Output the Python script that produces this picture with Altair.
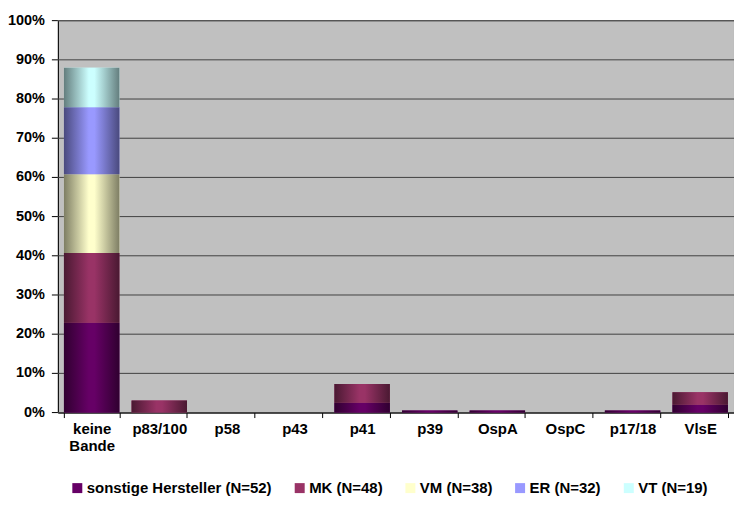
import altair as alt
import pandas as pd

categories = ["keine Bande", "p83/100", "p58", "p43", "p41", "p39", "OspA", "OspC", "p17/18", "VlsE"]
series = ["sonstige Hersteller (N=52)", "MK (N=48)", "VM (N=38)", "ER (N=32)", "VT (N=19)"]
sonstige = [22.9, 0.0, 0.0, 0.0, 2.5, 0.5, 0.5, 0.0, 0.5, 2.0]
mk = [17.8, 3.1, 0.0, 0.0, 4.8, 0.0, 0.0, 0.0, 0.0, 3.2]
vm = [20.1, 0.0, 0.0, 0.0, 0.0, 0.0, 0.0, 0.0, 0.0, 0.0]
er = [17.1, 0.0, 0.0, 0.0, 0.0, 0.0, 0.0, 0.0, 0.0, 0.0]
vt = [10.1, 0.0, 0.0, 0.0, 0.0, 0.0, 0.0, 0.0, 0.0, 0.0]
y_ticks = list(range(0, 101, 10))
colors = ["#660066", "#993366", "#FFFFCC", "#9999FF", "#CCFFFF"]
dark = ["#300030", "#4a1932", "#7e7e64", "#4a4a7e", "#647e7e"]

rows = []
for i, (s, vals) in enumerate(zip(series, [sonstige, mk, vm, er, vt])):
    for c, v in zip(categories, vals):
        rows.append({"cat": c, "series": s, "order": i, "value": v})
df = pd.DataFrame(rows)
ticks_df = pd.DataFrame({"v": y_ticks})

FONT = "Liberation Sans"
FS = 15

xscale = alt.Scale(domain=categories, paddingInner=0.18, paddingOuter=0.09)
yscale = alt.Scale(domain=[0, 100], nice=False)

xaxis = alt.Axis(labelAngle=0, tickBand="extent", labelFont=FONT,
                 labelFontSize=FS, labelFontWeight="bold", labelColor="black",
                 domainColor="black", tickColor="black", tickSize=5,
                 labelPadding=4, grid=False, labelOverlap=False,
                 labelExpr="split(datum.label, ' ')", labelLineHeight=17)
# y axis: only the black axis line; ticks, grid and labels are drawn from y_ticks below
yaxis = alt.Axis(labels=False, ticks=False, grid=False, domainColor="black",
                 title=None)

def X():
    return alt.X("cat:N", scale=xscale, sort=categories, title=None, axis=xaxis)

base = alt.Chart(df).transform_stack(
    stack="value", groupby=["cat"], as_=["y0", "y1"],
    sort=[alt.SortField("order", "ascending")]
)

tbase = alt.Chart(ticks_df)
grid = tbase.mark_rule(color="#404040", strokeWidth=1).encode(
    y=alt.Y("v:Q", scale=yscale, axis=yaxis, title=None),
    x=alt.value(0), x2=alt.value("width"),
)
tickmarks = tbase.mark_rule(color="black", strokeWidth=1).encode(
    y=alt.Y("v:Q", scale=yscale, axis=yaxis, title=None),
    x=alt.value(-6), x2=alt.value(0),
)
ylabels = tbase.transform_calculate(lab="datum.v + '%'").mark_text(
    align="right", baseline="middle", font=FONT, fontSize=14.5, fontWeight="bold",
    color="black",
).encode(
    y=alt.Y("v:Q", scale=yscale, axis=yaxis, title=None),
    x=alt.value(-13), text="lab:N",
)

flat = base.mark_bar().encode(
    x=X(),
    y=alt.Y("y1:Q", scale=yscale, title=None, axis=yaxis),
    y2="y0:Q",
    color=alt.Color("series:N", scale=alt.Scale(domain=series, range=colors),
                    sort=series,
                    legend=alt.Legend(title=None, orient="none", direction="horizontal",
                                      legendX=12, legendY=461, symbolType="square",
                                      symbolSize=100, symbolStrokeWidth=0,
                                      labelFont=FONT, labelFontSize=FS,
                                      labelFontWeight="bold", labelColor="black",
                                      labelLimit=0, columnPadding=20, labelOffset=2)),
)

layers = [grid, tickmarks, ylabels, flat]
for s, c, d in zip(series, colors, dark):
    grad = alt.Gradient(
        gradient="linear", x1=0, x2=1, y1=0, y2=0,
        stops=[alt.GradientStop(color=d, offset=0),
               alt.GradientStop(color=c, offset=0.45),
               alt.GradientStop(color=c, offset=0.55),
               alt.GradientStop(color=d, offset=1)],
    )
    layers.append(
        base.transform_filter(alt.datum.series == s).mark_bar(color=grad).encode(
            x=X(),
            y=alt.Y("y1:Q", scale=yscale, title=None, axis=yaxis),
            y2="y0:Q",
        )
    )

chart = alt.layer(*layers).properties(
    width=678, height=393,
    autosize=alt.AutoSizeParams(type="none"),
    padding={"left": 50, "top": 12, "right": 0, "bottom": 88},
).configure_view(fill="#C0C0C0", stroke="#808080", strokeWidth=1)

chart.save("out.html", embed_options={"renderer": "svg", "actions": False})
